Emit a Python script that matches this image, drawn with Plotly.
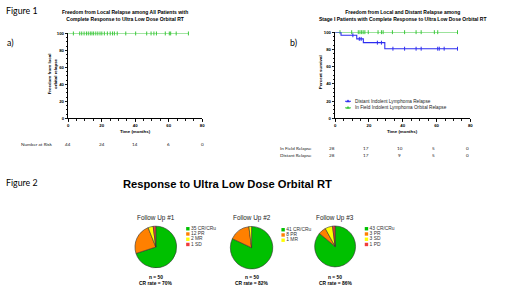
import plotly.graph_objects as go

W, H = 520, 292

# ---------------- DATA ----------------
time_ticks = [0, 20, 40, 60, 80]

# Panel a: freedom from local relapse (all patients)
a_step_times = [0, 71.8]
a_step_surv = [100, 100]
a_censor_times = [3.1, 6.9, 8.1, 9.5, 10.9, 12.0, 13.2, 14.2, 15.2, 16.5, 17.7, 19.0, 20.1,
                  21.6, 23.4, 25.1, 26.5, 27.6, 29.3, 34.4, 40.3, 46.9, 49.5, 51.2, 52.7,
                  58.0, 60.4, 61.2, 64.5, 71.8]
a_risk_label = "Number at Risk"
a_risk = [44, 24, 14, 6, 0]

# Panel b: distant relapse (blue) and in-field relapse (green)
dist_event_times = [0, 3.5, 12.8, 16.7, 29.4]
dist_surv = [100, 96.4, 92.2, 87.8, 80.8]
dist_end = 72.4
dist_censor_times = [10.5, 14.3, 15.4, 25.0, 27.4, 34.2, 41.1, 47.9, 50.9, 60.7, 61.6, 64.5, 72.4]

inf_step_times = [0, 72.4]
inf_step_surv = [100, 100]
inf_censor_times = [2.9, 9.8, 13.7, 14.7, 15.7, 16.6, 17.6, 19.6, 25.4, 27.4, 28.4, 33.9,
                    41.1, 47.9, 50.9, 58.7, 60.7, 72.4]

b_series_names = ["Distant Indolent Lymphoma Relapse", "In Field Indolent Lymphoma Orbital Relapse"]
b_risk_labels = ["In Field Relapse", "Distant Relapse"]
b_risk_infield = [28, 17, 10, 5, 0]
b_risk_distant = [28, 17, 9, 5, 0]

# Figure 2: response pies
fu_titles = ["Follow Up #1", "Follow Up #2", "Follow Up #3"]
fu1_cats = ["CR/CRu", "PR", "MR", "SD"]
fu1_vals = [35, 12, 2, 1]
fu2_cats = ["CR/CRu", "PR", "MR"]
fu2_vals = [41, 8, 1]
fu3_cats = ["CR/CRu", "PR", "SD", "PD"]
fu3_vals = [43, 3, 3, 1]
fu_n = [50, 50, 50]
fu_cr_rate = [70, 82, 86]

# ---------------- STYLE ----------------
GREEN_KM = "#3cc83c"
BLUE_KM = "#2d2df0"
PIE_COL = {"CR/CRu": "#00c000", "PR": "#ff8000", "MR": "#ffff00", "SD": "#ffff00", "PD": "#f03c3c"}
PIE_COL1 = {"CR/CRu": "#00c000", "PR": "#ff8000", "MR": "#ffff00", "SD": "#f03c3c"}
ARIAL = "Liberation Sans, Arial, sans-serif"
CAL = "Lato, Carlito, sans-serif"


def px_x(p):
    return p / W


def px_y(p):
    return 1 - p / H


def surv_at(t, times, surv):
    s = surv[0]
    for tt, ss in zip(times, surv):
        if t >= tt:
            s = ss
    return s


fig = go.Figure()

# ---- Panel a ----
fig.add_trace(go.Scatter(x=a_step_times, y=a_step_surv, mode="lines", line=dict(color=GREEN_KM, width=1),
                         line_shape="hv", xaxis="x", yaxis="y", cliponaxis=False, showlegend=False, hoverinfo="skip"))
fig.add_trace(go.Scatter(x=a_censor_times, y=[surv_at(t, a_step_times, a_step_surv) for t in a_censor_times],
                         mode="markers", marker=dict(symbol="line-ns", size=2.8, line=dict(color=GREEN_KM, width=1)),
                         xaxis="x", yaxis="y", cliponaxis=False, showlegend=False, hoverinfo="skip"))

# ---- Panel b ----
fig.add_trace(go.Scatter(x=inf_step_times, y=inf_step_surv, mode="lines", line=dict(color=GREEN_KM, width=1),
                         line_shape="hv", xaxis="x2", yaxis="y2", cliponaxis=False, showlegend=False, hoverinfo="skip"))
fig.add_trace(go.Scatter(x=inf_censor_times, y=[surv_at(t, inf_step_times, inf_step_surv) for t in inf_censor_times],
                         mode="markers", marker=dict(symbol="line-ns", size=2.8, line=dict(color=GREEN_KM, width=1)),
                         xaxis="x2", yaxis="y2", cliponaxis=False, showlegend=False, hoverinfo="skip"))
fig.add_trace(go.Scatter(x=dist_event_times + [dist_end], y=dist_surv + [dist_surv[-1]], mode="lines",
                         line=dict(color=BLUE_KM, width=1.1), line_shape="hv", xaxis="x2", yaxis="y2",
                         cliponaxis=False, showlegend=False, hoverinfo="skip"))
fig.add_trace(go.Scatter(x=dist_censor_times, y=[surv_at(t, dist_event_times, dist_surv) for t in dist_censor_times],
                         mode="markers", marker=dict(symbol="line-ns", size=2.8, line=dict(color=BLUE_KM, width=1)),
                         xaxis="x2", yaxis="y2", cliponaxis=False, showlegend=False, hoverinfo="skip"))

# legend for panel b (hidden axis x3/y3)
for i, (nm, col) in enumerate(zip(b_series_names, [BLUE_KM, GREEN_KM])):
    fig.add_trace(go.Scatter(x=[0, 1], y=[i, i], mode="lines", line=dict(color=col, width=1),
                             xaxis="x3", yaxis="y3", cliponaxis=False, showlegend=False, hoverinfo="skip"))
    fig.add_trace(go.Scatter(x=[0.5], y=[i], mode="markers", marker=dict(symbol="triangle-up", size=3.5, color=col),
                             xaxis="x3", yaxis="y3", cliponaxis=False, showlegend=False, hoverinfo="skip"))

# ---- Pies ----
pie_sets = [(fu1_cats, fu1_vals, PIE_COL1), (fu2_cats, fu2_vals, PIE_COL), (fu3_cats, fu3_vals, PIE_COL)]
pie_geo = [(156, 249.3, 21.2), (252.5, 250, 21.6), (336.7, 248.7, 20.8)]
leg_geo = [(188.3, 230.7), (284.3, 231.7), (368.3, 230.7)]
for k, ((cats, vals, cmap), (cx, cy, r)) in enumerate(zip(pie_sets, pie_geo)):
    labels = [f"{v} {c}" for v, c in zip(vals, cats)]
    fig.add_trace(go.Pie(values=vals, labels=labels, sort=False, direction="clockwise", rotation=0,
                         marker=dict(colors=[cmap[c] for c in cats], line=dict(color="#333333", width=0.6)),
                         textinfo="none", hoverinfo="skip", showlegend=False,
                         domain=dict(x=[px_x(cx - r), px_x(cx + r)], y=[px_y(cy + r), px_y(cy - r)])))
    ax = k + 4
    fig.add_trace(go.Scatter(x=[0] * len(vals), y=list(range(len(vals))), mode="markers+text",
                             marker=dict(symbol="square", size=3.4, color=[cmap[c] for c in cats]),
                             text=labels, textposition="middle right",
                             textfont=dict(family=ARIAL, size=4.9, color="#333333"),
                             xaxis=f"x{ax}", yaxis=f"y{ax}", cliponaxis=False, showlegend=False, hoverinfo="skip"))

# ---------------- LAYOUT ----------------
axis_common = dict(showline=True, linecolor="black", linewidth=1.1, showgrid=False, zeroline=False,
                   ticks="outside", ticklen=2.2, tickwidth=0.9, tickcolor="black",
                   tickfont=dict(family=ARIAL, size=4.3, color="black", weight="bold"))

layout = dict(
    width=W, height=H, margin=dict(l=0, r=0, t=0, b=0),
    paper_bgcolor="white", plot_bgcolor="rgba(0,0,0,0)", showlegend=False,
    xaxis=dict(domain=[px_x(67.7), px_x(202.7)], range=[0, 80], tickvals=time_ticks, anchor="y",
               minor=dict(dtick=5, ticks="outside", ticklen=1.3, tickcolor="black"), **axis_common),
    yaxis=dict(domain=[px_y(118.3), px_y(32)], range=[0, 100], dtick=20, anchor="x",
               minor=dict(dtick=5, ticks="outside", ticklen=1.3, tickcolor="black"), **axis_common),
    xaxis2=dict(domain=[px_x(336.7), px_x(473)], range=[0, 80], tickvals=time_ticks, anchor="y2",
                minor=dict(dtick=5, ticks="outside", ticklen=1.3, tickcolor="black"), **axis_common),
    yaxis2=dict(domain=[px_y(118.3), px_y(30.7)], range=[0, 100], dtick=20, anchor="x2",
                minor=dict(dtick=5, ticks="outside", ticklen=1.3, tickcolor="black"), **axis_common),
    xaxis3=dict(domain=[px_x(346.7), px_x(352.7)], range=[0, 1], visible=False, anchor="y3"),
    yaxis3=dict(domain=[px_y(111.05), px_y(97.65)], range=[1.5, -0.5], visible=False, anchor="x3"),
)
for k, (lx, ly0) in enumerate(leg_geo):
    ax = k + 4
    n = len(pie_sets[k][1])
    step = 5.33
    layout[f"xaxis{ax}"] = dict(domain=[px_x(lx - 5), px_x(lx + 5)], range=[-1, 1], visible=False, anchor=f"y{ax}")
    layout[f"yaxis{ax}"] = dict(domain=[px_y(ly0 - step / 2 + n * step), px_y(ly0 - step / 2)],
                                range=[n - 0.5, -0.5], visible=False, anchor=f"x{ax}")
fig.update_layout(**layout)

ann = []


def A(text, x, y, size, family=ARIAL, bold=False, color="black", xanchor="center", xref="paper", angle=0,
      yanchor="middle"):
    ann.append(dict(text=text, x=x, y=y, xref=xref, yref="paper", showarrow=False, xanchor=xanchor,
                    yanchor=yanchor, textangle=angle,
                    font=dict(family=family, size=size, color=color, weight="bold" if bold else "normal")))


A("Figure 1", px_x(3.5), px_y(8.5), 8.8, family=CAL, xanchor="left")
A("a)", px_x(4), px_y(41.5), 8.8, family=CAL, xanchor="left")
A("b)", px_x(289.5), px_y(41.5), 8.8, family=CAL, xanchor="left")
A("Freedom from Local Relapse among All Patients with<br>Complete Response to Ultra Low Dose Orbital RT",
  px_x(124.5), px_y(13.7), 5.0, bold=True)
A("Freedom from Local and Distant Relapse among<br>Stage I Patients with Complete Response to Ultra Low Dose Orbital RT",
  px_x(405), px_y(13.7), 5.0, bold=True)
A("Freedom from local<br>orbital relapse", px_x(52), px_y(73), 4.4, bold=True, angle=-90)
A("Percent survival", px_x(322), px_y(72), 4.4, bold=True, angle=-90)
A("Time (months)", px_x(135.2), px_y(131.8), 4.4, bold=True)
A("Time (months)", px_x(405), px_y(131.8), 4.4, bold=True)

# risk tables
A(a_risk_label, px_x(18), px_y(144.3), 4.6, family=CAL, xanchor="left", color="#222")
for t, v in zip(time_ticks, a_risk):
    A(str(v), t, px_y(144.3), 4.6, family=CAL, xref="x", color="#222")
A(b_risk_labels[0], px_x(315.5), px_y(149), 4.6, family=CAL, xanchor="right", color="#222")
A(b_risk_labels[1], px_x(315.5), px_y(155.3), 4.6, family=CAL, xanchor="right", color="#222")
for t, v1, v2 in zip(time_ticks, b_risk_infield, b_risk_distant):
    ann.append(dict(text=str(v1), x=t, y=px_y(149), xref="x2", yref="paper", showarrow=False, xshift=-3,
                    font=dict(family=CAL, size=4.6, color="#222")))
    ann.append(dict(text=str(v2), x=t, y=px_y(155.3), xref="x2", yref="paper", showarrow=False, xshift=-3,
                    font=dict(family=CAL, size=4.6, color="#222")))

# panel b legend text
for i, nm in enumerate(b_series_names):
    ann.append(dict(text=nm, x=1, y=i, xref="x3", yref="y3", showarrow=False, xanchor="left", xshift=2,
                    font=dict(family=ARIAL, size=4.7, color="#222")))

# Figure 2
A("Figure 2", px_x(3.5), px_y(184), 8.8, family=CAL, xanchor="left")
A("Response to Ultra Low Dose Orbital RT", px_x(228), px_y(185.3), 11.2, bold=True)
for (cx, cy, r), title, n, cr in zip(pie_geo, fu_titles, fu_n, fu_cr_rate):
    A(title, px_x(cx), px_y(219.5), 6.4, color="#222")
    A(f"n = {n}", px_x(cx), px_y(280), 4.9, bold=True)
    A(f"CR rate = {cr}%", px_x(cx), px_y(286.5), 4.9, bold=True)

fig.update_layout(annotations=ann)
fig.write_html("out.html", config={"displayModeBar": False, "staticPlot": True},
               post_script="document.body.style.margin='0';document.body.style.overflow='hidden';")
